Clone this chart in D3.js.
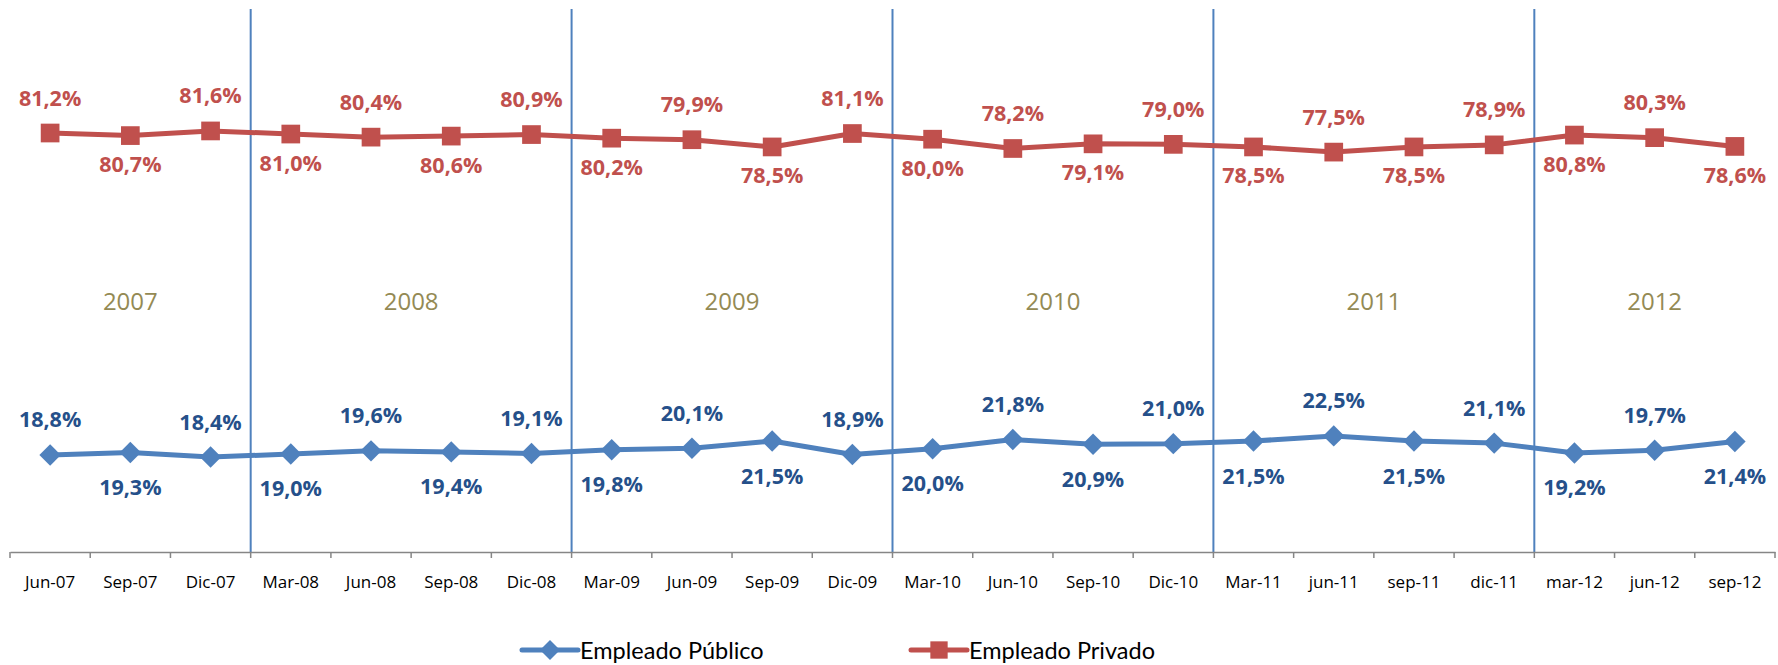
<!DOCTYPE html>
<html>
<head>
<meta charset="utf-8">
<script src="https://cdn.jsdelivr.net/npm/d3@7"></script>
<style>
  body { margin: 0; background: #fff; }
  svg { display: block; }
  .axis path, .axis line { stroke: #868686; }
  .axis text { font-family: "Open Sans", sans-serif; font-size: 17px; fill: #000; }
  .lbl { font-family: "Open Sans", sans-serif; font-weight: bold; font-size: 21.5px; }
  .year { font-family: "Open Sans", sans-serif; font-size: 24px; fill: #948A54; }
  .legend text { font-family: Lato, sans-serif; font-size: 23.5px; fill: #000; }
</style>
</head>
<body>
<div id="chart"></div>
<script>
const categories = ["Jun-07", "Sep-07", "Dic-07", "Mar-08", "Jun-08", "Sep-08", "Dic-08",
  "Mar-09", "Jun-09", "Sep-09", "Dic-09", "Mar-10", "Jun-10", "Sep-10", "Dic-10",
  "Mar-11", "jun-11", "sep-11", "dic-11", "mar-12", "jun-12", "sep-12"]

const publico = [18.8, 19.3, 18.4, 19.0, 19.6, 19.4, 19.1, 19.8, 20.1, 21.5, 18.9,
  20.0, 21.8, 20.9, 21.0, 21.5, 22.5, 21.5, 21.1, 19.2, 19.7, 21.4]

const privado = [81.2, 80.7, 81.6, 81.0, 80.4, 80.6, 80.9, 80.2, 79.9, 78.5, 81.1,
  80.0, 78.2, 79.1, 79.0, 78.5, 77.5, 78.5, 78.9, 80.8, 80.3, 78.6]

const years = ["2007", "2008", "2009", "2010", "2011", "2012"]
// first category of each new year
const yearBreaks = ["Mar-08", "Mar-09", "Mar-10", "Mar-11", "mar-12"]

const width = 1778
const height = 665
const blue = "#4F81BD"
const red = "#C0504D"

const x = d3.scaleBand()
  .domain(categories)
  .range([10, 1775])

const y = d3.scaleLinear()
  .domain([0, 100])
  .range([552, 36])

const fmt = v => d3.format(".1f")(v).replace(".", ",") + "%"

// diamond drawn as a square turned 45 degrees
const diamond = {
  draw(ctx, size) {
    const r = Math.sqrt(size / 2)
    ctx.moveTo(0, -r); ctx.lineTo(r, 0); ctx.lineTo(0, r); ctx.lineTo(-r, 0); ctx.closePath()
  }
}

const svg = d3.select("#chart").append("svg")
  .attr("width", width)
  .attr("height", height)

// year separators
svg.append("g")
  .selectAll("line")
  .data(yearBreaks)
  .join("line")
  .attr("x1", d => x(d))
  .attr("x2", d => x(d))
  .attr("y1", 9)
  .attr("y2", y(0))
  .attr("stroke", blue)
  .attr("stroke-width", 2)

// year labels, centred over each year's span
const edges = [x.range()[0], ...yearBreaks.map(d => x(d)), x.range()[1]]
svg.append("g")
  .selectAll("text")
  .data(years)
  .join("text")
  .attr("class", "year")
  .attr("x", (d, i) => (edges[i] + edges[i + 1]) / 2)
  .attr("y", 300)
  .attr("text-anchor", "middle")
  .attr("dominant-baseline", "central")
  .text(d => d)

// x axis
const axis = svg.append("g")
  .attr("class", "x axis")
  .attr("transform", "translate(0," + y(0) + ")")
  .call(d3.axisBottom(x).tickSize(0).tickPadding(24))
axis.select(".domain").attr("stroke-width", 1.5)
axis.selectAll(".tickmark")
  .data(categories.concat("end"))
  .join("line")
  .attr("class", "tickmark")
  .attr("x1", (d, i) => x.range()[0] + i * x.step())
  .attr("x2", (d, i) => x.range()[0] + i * x.step())
  .attr("y1", 0)
  .attr("y2", 6)
  .attr("stroke", "#868686")
  .attr("stroke-width", 1.5)

const line = d3.line()
  .x((d, i) => x(categories[i]) + x.bandwidth() / 2)
  .y(d => y(d))

function drawSeries(values, color, textColor, symbol, size, below) {
  const g = svg.append("g")
  g.append("path")
    .datum(values)
    .attr("fill", "none")
    .attr("stroke", color)
    .attr("stroke-width", 5)
    .attr("stroke-linejoin", "round")
    .attr("d", line)

  g.selectAll(".pt")
    .data(values)
    .join("path")
    .attr("class", "pt")
    .attr("transform", (d, i) => "translate(" + (x(categories[i]) + x.bandwidth() / 2) + "," + y(d) + ")")
    .attr("d", d3.symbol(symbol, size))
    .attr("fill", color)

  g.selectAll(".lbl")
    .data(values)
    .join("text")
    .attr("class", "lbl")
    .attr("x", (d, i) => x(categories[i]) + x.bandwidth() / 2)
    .attr("y", (d, i) => y(d) + (i % 2 === 0 ? -36 : below))
    .attr("text-anchor", "middle")
    .attr("dominant-baseline", "central")
    .attr("fill", textColor)
    .text(d => fmt(d))
}

drawSeries(privado, red, red, d3.symbolSquare, 350, 28)
drawSeries(publico, blue, "#25508A", diamond, 230, 34)

// legend
const legendItems = [
  { name: "Empleado Público", color: blue, symbol: diamond, size: 200, x: 522 },
  { name: "Empleado Privado", color: red, symbol: d3.symbolSquare, size: 300, x: 911 }
]
const legend = svg.append("g").attr("class", "legend")
const li = legend.selectAll("g")
  .data(legendItems)
  .join("g")
  .attr("transform", d => "translate(" + d.x + ",650)")
li.append("line")
  .attr("x1", 0).attr("x2", 56)
  .attr("stroke", d => d.color)
  .attr("stroke-width", 5)
  .attr("stroke-linecap", "round")
li.append("path")
  .attr("transform", "translate(28,0)")
  .attr("d", d => d3.symbol(d.symbol, d.size)())
  .attr("fill", d => d.color)
li.append("text")
  .attr("x", 58)
  .attr("dominant-baseline", "central")
  .text(d => d.name)
</script>
</body>
</html>
